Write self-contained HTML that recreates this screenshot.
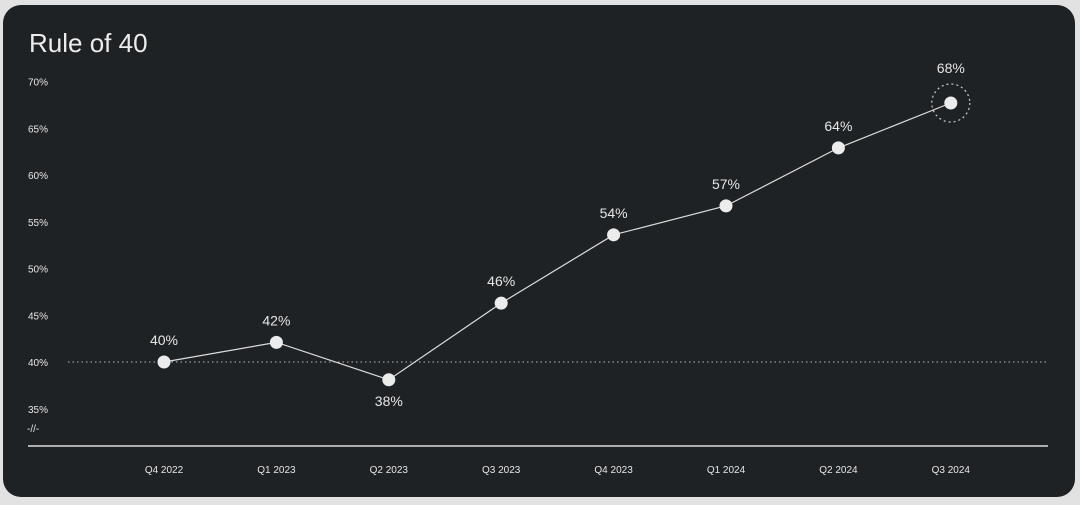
<!DOCTYPE html>
<html><head><meta charset="utf-8"><style>
html,body{margin:0;padding:0;background:#e2e2e2;width:1080px;height:505px;overflow:hidden}
#card{position:absolute;left:3px;top:5px;width:1072px;height:492px;background:#1f2225;border-radius:18px}
svg{position:absolute;left:0;top:0}
text{font-family:"Liberation Sans",sans-serif;fill:#e6e6e6}
</style></head><body>
<div id="card"></div>
<svg id="chart" width="1080" height="505">
<text x="29" y="52" font-size="26" style="fill:#ececec">Rule of 40</text>
</svg>
<script>
const categories=["Q4 2022","Q1 2023","Q2 2023","Q3 2023","Q4 2023","Q1 2024","Q2 2024","Q3 2024"];
const values=[40,42.1,38.1,46.3,53.6,56.7,62.9,67.7];
const valueLabels=["40%","42%","38%","46%","54%","57%","64%","68%"];
const tickValues=[70,65,60,55,50,45,40,35];
const tickLabels=["70%","65%","60%","55%","50%","45%","40%","35%"];
const NS="http://www.w3.org/2000/svg",svg=document.getElementById('chart');
const y=v=>362-(v-40)*9.35;
const x=i=>164+i*112.4;
function mk(t,a,p){const e=document.createElementNS(NS,t);for(const k in a)e.setAttribute(k,a[k]);(p||svg).appendChild(e);return e;}
tickValues.forEach((v,i)=>{const t=mk('text',{x:28,y:y(v)+4,'font-size':10});


t.textContent=tickLabels[i];});
const br=mk('text',{x:27,y:432,'font-size':10});


br.textContent='-//-';
const ref=mk('line',{x1:68,x2:1048,y1:y(40),y2:y(40),stroke:'#bbb','stroke-width':1,'stroke-dasharray':'1.5 3'});


const ax=mk('line',{x1:28,x2:1048,y1:446,y2:446,stroke:'#ddd','stroke-width':1.5});


categories.forEach((c,i)=>{const t=mk('text',{x:x(i),y:473,'font-size':10,'text-anchor':'middle'});


t.textContent=c;});
const line=mk('polyline',{points:values.map((v,i)=>x(i)+','+y(v)).join(' '),fill:'none',stroke:'#ddd','stroke-width':1.2});


values.forEach((v,i)=>{
 const last=i===values.length-1;
 if(last){const h=mk('circle',{cx:x(i),cy:y(v),r:19,fill:'none',stroke:'#ccc','stroke-width':1.2,'stroke-dasharray':'2 3'});
 
 }
 const c=mk('circle',{cx:x(i),cy:y(v),r:6.5,fill:'#ececec'});
 
 
 const below=i>0&&i<values.length-1&&v<values[i-1]&&v<values[i+1];
 const t=mk('text',{x:x(i),y:below?y(v)+26:y(v)-(last?30:17),'font-size':14,'text-anchor':'middle'});
 
 
 t.textContent=valueLabels[i];
});
</script>
</body></html>
